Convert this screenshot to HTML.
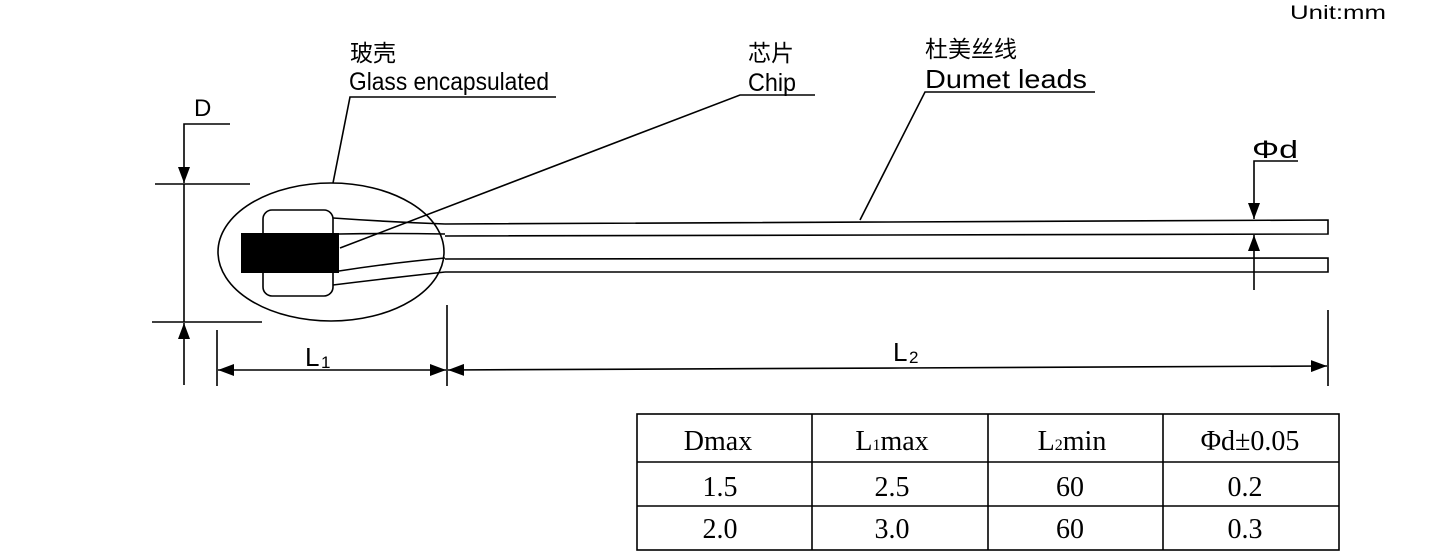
<!DOCTYPE html>
<html><head><meta charset="utf-8"><style>
html,body{margin:0;padding:0;background:#fff;}
svg{display:block}
</style></head><body>
<svg width="1432" height="557" viewBox="0 0 1432 557" xmlns="http://www.w3.org/2000/svg">
<defs>
<marker id="a" viewBox="0 0 16 12" refX="16" refY="6" markerWidth="16" markerHeight="12" markerUnits="userSpaceOnUse" orient="auto"><path d="M0,0 L16,6 L0,12z" fill="#000"/></marker>
</defs>
<g font-family="Liberation Sans, 'Noto Sans CJK SC', sans-serif" fill="#000">
<text x="1290" y="19" font-size="19" textLength="96" lengthAdjust="spacingAndGlyphs">Unit:mm</text>
<text x="350" y="61" font-size="23">玻壳</text>
<text x="349" y="90" font-size="25" textLength="200" lengthAdjust="spacingAndGlyphs">Glass encapsulated</text>
<text x="748" y="61" font-size="23">芯片</text>
<text x="748" y="91" font-size="25" textLength="48" lengthAdjust="spacingAndGlyphs">Chip</text>
<text x="925" y="57" font-size="23">杜美丝线</text>
<text x="925" y="88" font-size="26" textLength="162" lengthAdjust="spacingAndGlyphs">Dumet leads</text>
<text x="194" y="116" font-size="24">D</text>
<text x="1252" y="158" font-size="25" textLength="46" lengthAdjust="spacingAndGlyphs">Φd</text>
<text x="305" y="366" font-size="26">L</text><text x="321" y="368" font-size="17">1</text>
<text x="893" y="361" font-size="26">L</text><text x="909" y="363" font-size="17">2</text>
</g>
<g stroke="#000" fill="none" stroke-width="1.6">
<polyline points="556,97 350,97 333,183"/>
<polyline points="815,95 740,95 340,248"/>
<polyline points="1095,92 925,92 860,220"/>
<ellipse cx="331" cy="252" rx="113" ry="69"/>
<rect x="263" y="210" width="70" height="86" rx="9" fill="#fff"/>
<path d="M333,218 Q390,222 445,224"/>
<path d="M339,234 Q390,233 445,234"/>
<path d="M339,271 Q390,263 445,258"/>
<path d="M333,285 Q390,278 445,272"/>
<polyline points="445,224 1328,220 1328,234 445,236"/>
<polyline points="445,259 1328,258 1328,272 445,272"/>
<polyline points="230,124 184,124 184,183" marker-end="url(#a)"/>
<line x1="155" y1="184" x2="250" y2="184"/>
<line x1="152" y1="322" x2="262" y2="322"/>
<line x1="184" y1="385" x2="184" y2="323" marker-end="url(#a)"/>
<line x1="184" y1="184" x2="184" y2="322"/>
<polyline points="1298,161 1254,161 1254,219" marker-end="url(#a)"/>
<line x1="1254" y1="290" x2="1254" y2="235" marker-end="url(#a)"/>
<line x1="217" y1="330" x2="217" y2="386"/>
<line x1="447" y1="305" x2="447" y2="386"/>
<line x1="1328" y1="310" x2="1328" y2="386"/>
<line x1="330" y1="370" x2="218" y2="370" marker-end="url(#a)"/>
<line x1="330" y1="370" x2="446" y2="370" marker-end="url(#a)"/>
<line x1="900" y1="368" x2="448" y2="370" marker-end="url(#a)"/>
<line x1="900" y1="368" x2="1327" y2="366" marker-end="url(#a)"/>
</g>
<rect x="241" y="233" width="98" height="40" fill="#000"/>
<g stroke="#000" stroke-width="1.6" fill="none">
<rect x="637" y="414" width="702" height="136"/>
<line x1="637" y1="462" x2="1339" y2="462"/>
<line x1="637" y1="506" x2="1339" y2="506"/>
<line x1="812" y1="414" x2="812" y2="550"/>
<line x1="988" y1="414" x2="988" y2="550"/>
<line x1="1163" y1="414" x2="1163" y2="550"/>
</g>
<g font-family="Liberation Serif, serif" font-size="28" text-anchor="middle" fill="#000">
<text x="718" y="450">Dmax</text>
<text x="892" y="450">L<tspan font-size="16">1</tspan>max</text>
<text x="1072" y="450">L<tspan font-size="16">2</tspan>min</text>
<text x="1250" y="450">Φd±0.05</text>
<text x="720" y="496">1.5</text>
<text x="892" y="496">2.5</text>
<text x="1070" y="496">60</text>
<text x="1245" y="496">0.2</text>
<text x="720" y="538">2.0</text>
<text x="892" y="538">3.0</text>
<text x="1070" y="538">60</text>
<text x="1245" y="538">0.3</text>
</g>
</svg>
</body></html>
